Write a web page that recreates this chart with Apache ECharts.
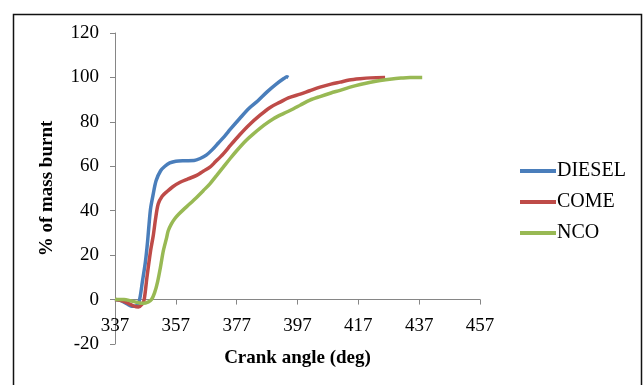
<!DOCTYPE html>
<html><head><meta charset="utf-8">
<script src="https://cdn.jsdelivr.net/npm/echarts@6/dist/echarts.min.js"></script>
<style>html,body{margin:0;padding:0;background:#fff}#c{width:644px;height:385px}</style>
</head><body><div id="c"></div>
<script>
const seriesNames = ['DIESEL', 'COME', 'NCO'];
const xTicks = [337, 357, 377, 397, 417, 437, 457];
const yTicks = [-20, 0, 20, 40, 60, 80, 100, 120];

const dieselAngle = [337, 339, 341, 342.5, 344, 345, 346, 347, 347.7, 348.2, 348.7, 349.5, 350.5, 352, 353.4, 355, 357, 360, 363, 365, 367, 369, 371, 373, 375, 378, 381, 384, 387, 390, 392.5, 393.5, 394];
const dieselBurnt = [0, -0.5, -2, -3, -2.8, -0.5, 8, 17, 26, 34, 41, 47, 53.5, 58, 60, 61.5, 62.3, 62.5, 62.6, 63.5, 65, 67.5, 70.5, 73.5, 76.8, 81.5, 86, 89.5, 93.5, 97, 99.5, 100.3, 100];

const comeAngle = [337, 339, 341, 343, 344.7, 346, 346.6, 347.5, 348.7, 349.6, 350.3, 351.2, 352.5, 354, 356, 358.4, 361, 364, 366, 368.2, 370, 372.6, 375, 378, 381, 384.7, 388, 391.3, 394, 397.9, 401, 404.4, 408, 411, 414, 417.6, 421, 425.8];
const comeBurnt = [0, -0.5, -1.5, -2.8, -3.3, -2, 0, 10, 22, 29, 36, 43, 46.5, 48.5, 50.8, 52.8, 54.3, 56, 57.8, 59.6, 62, 65.6, 69.5, 74.2, 78.5, 83, 86.5, 88.9, 90.8, 92.5, 94, 95.6, 97, 97.9, 98.8, 99.4, 99.8, 100];

const ncoAngle = [337, 340, 342, 344, 346.3, 348, 349, 350, 351, 352, 352.9, 354, 354.5, 355.5, 356.7, 358, 359.5, 361.5, 363.9, 366, 368.2, 370.5, 372.6, 374.8, 377, 380, 382.5, 386, 389.1, 392.5, 395.7, 398, 401.1, 404.4, 408, 411, 414, 417.6, 421, 424.2, 428, 431, 434, 438];
const ncoBurnt = [0, 0, -0.5, -1.2, -1.7, -1, 0, 3, 8, 15, 22, 28, 31, 34, 36.5, 38.5, 40.5, 43, 46.1, 49, 52.1, 56, 59.6, 63.4, 67, 71.5, 74.6, 78.5, 81.4, 83.8, 85.9, 87.6, 89.8, 91.4, 93, 94.2, 95.5, 96.8, 97.8, 98.6, 99.3, 99.7, 100, 100];

const colors = ['#4A7EBB', '#BE4B48', '#98B954'];
const pairs = (a, b) => a.map((x, i) => [x, b[i]]);
const seriesData = [pairs(dieselAngle, dieselBurnt), pairs(comeAngle, comeBurnt), pairs(ncoAngle, ncoBurnt)];

const font = '"Liberation Serif", "Times New Roman", serif';
const chart = echarts.init(document.getElementById('c'), null, {renderer: 'canvas'});
chart.setOption({
  animation: false,
  backgroundColor: '#fff',
  color: colors,
  grid: {left: 115, right: 164, top: 33, bottom: 41, containLabel: false, outerBoundsMode: 'none'},
  graphic: [{
    type: 'rect', shape: {x: 13.5, y: 14.5, width: 628, height: 380},
    style: {fill: 'none', stroke: '#111', lineWidth: 1.5}, z: -1
  }],
  legend: {
    orient: 'vertical', left: 515, top: 156, itemWidth: 36, itemHeight: 4, itemGap: 11,
    icon: 'rect', data: seriesNames,
    textStyle: {fontFamily: font, fontSize: 20, color: '#000', padding: [0, 0, 0, -4]}
  },
  xAxis: {
    type: 'value', min: xTicks[0], max: xTicks[xTicks.length - 1], interval: 20,
    name: 'Crank angle (deg)', nameLocation: 'middle', nameGap: 5,
    nameTextStyle: {fontFamily: font, fontSize: 19, fontWeight: 'bold', color: '#000'},
    axisLine: {onZero: true, lineStyle: {color: '#868686', width: 1}},
    axisTick: {show: true, length: 5, lineStyle: {color: '#868686'}},
    axisLabel: {fontFamily: font, fontSize: 19, color: '#000', margin: -27},
    splitLine: {show: false}
  },
  yAxis: {
    type: 'value', min: yTicks[0], max: yTicks[yTicks.length - 1], interval: 20,
    name: '% of mass burnt', nameLocation: 'middle', nameGap: 58,
    nameTextStyle: {fontFamily: font, fontSize: 19, fontWeight: 'bold', color: '#000'},
    axisLine: {show: true, onZero: false, lineStyle: {color: '#868686', width: 1}},
    axisTick: {show: true, length: 5, lineStyle: {color: '#868686'}},
    axisLabel: {fontFamily: font, fontSize: 19, color: '#000', margin: 16},
    splitLine: {show: false}
  },
  series: seriesNames.map((n, i) => ({
    name: n, type: 'line', data: seriesData[i], smooth: 0.3, showSymbol: false,
    lineStyle: {width: 3.5, color: colors[i]}, itemStyle: {color: colors[i]}
  }))
});
</script></body></html>
